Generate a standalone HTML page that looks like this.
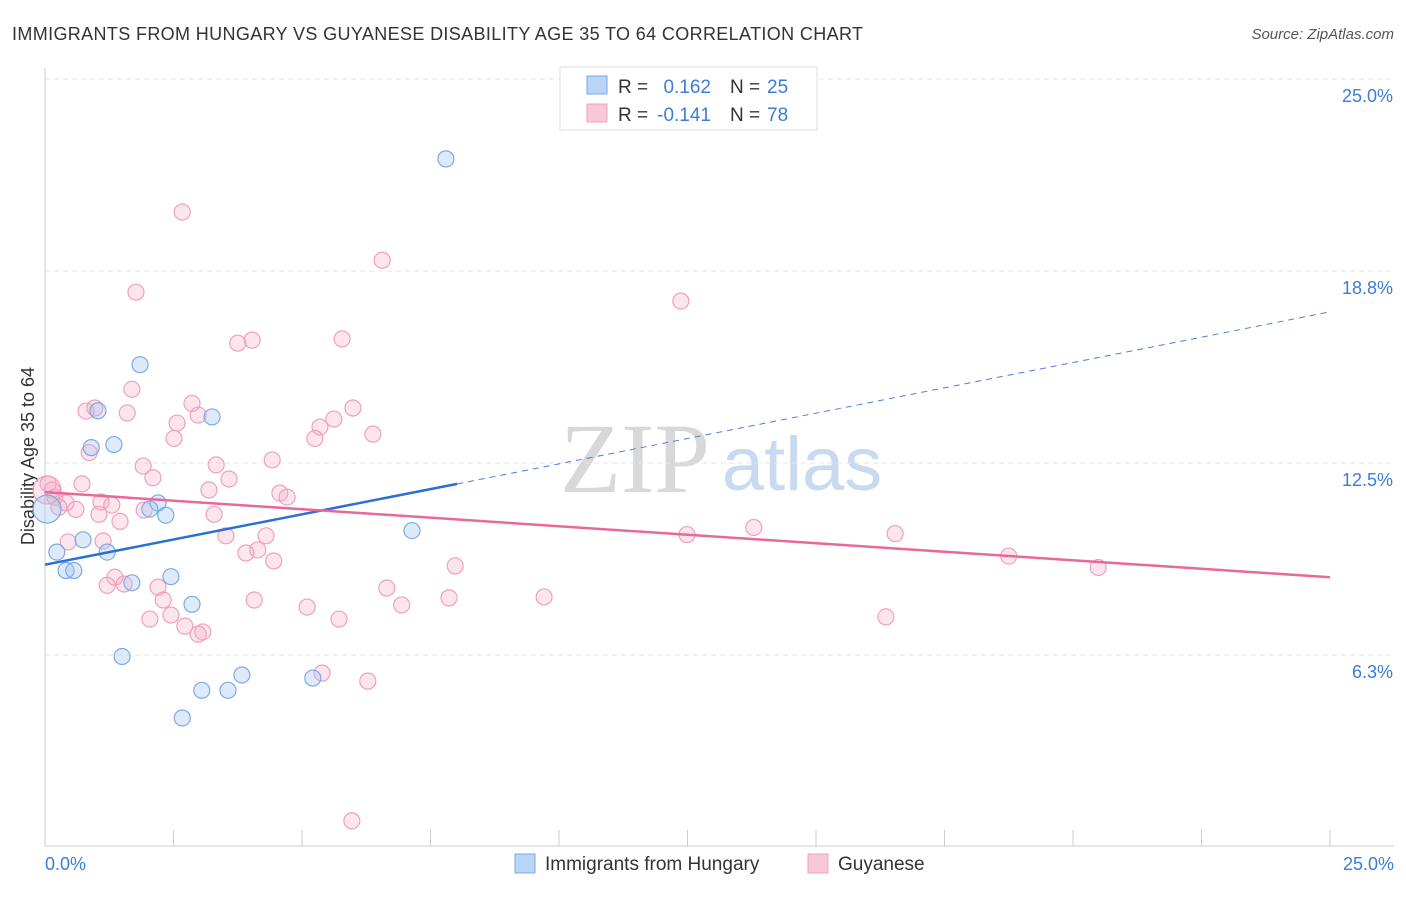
<!DOCTYPE html>
<html><head><meta charset="utf-8"><style>
body{margin:0;background:#fff;font-family:"Liberation Sans",sans-serif}
svg text{font-family:"Liberation Sans",sans-serif}
</style></head><body>
<svg id="c" width="1406" height="892">
<text x="12" y="40" font-size="18" fill="#333" textLength="851">IMMIGRANTS FROM HUNGARY VS GUYANESE DISABILITY AGE 35 TO 64 CORRELATION CHART</text>
<text x="1394" y="39" font-size="15" fill="#555" text-anchor="end" font-style="italic">Source: ZipAtlas.com</text>
<text x="635" y="492" font-size="100" fill="#d8d8d8" text-anchor="middle" style="font-family:'Liberation Serif',serif">ZIP</text>
<text x="802" y="490" font-size="76" fill="#c8daf0" text-anchor="middle">atlas</text>
<text transform="translate(34,456) rotate(-90)" font-size="18" fill="#333" text-anchor="middle">Disability Age 35 to 64</text>
<g id="grid"></g><g id="pts"></g><g id="lines"></g>
<g>
<rect x="560" y="67" width="257" height="63" fill="#fff" stroke="#ddd"/>
<rect x="587" y="76" width="20" height="18" fill="#b8d4f6" stroke="#7aaae8"/>
<rect x="587" y="104" width="20" height="18" fill="#f8c8d8" stroke="#f0a0bc"/>
<text x="618" y="93" font-size="19" fill="#333">R =</text>
<text x="711" y="93" font-size="19" fill="#3b7dd8" text-anchor="end">0.162</text>
<text x="730" y="93" font-size="19" fill="#333">N =</text>
<text x="767" y="93" font-size="19" fill="#3b7dd8">25</text>
<text x="618" y="121" font-size="19" fill="#333">R =</text>
<text x="711" y="121" font-size="19" fill="#3b7dd8" text-anchor="end">-0.141</text>
<text x="730" y="121" font-size="19" fill="#333">N =</text>
<text x="767" y="121" font-size="19" fill="#3b7dd8">78</text>
</g>
<g>
<rect x="515" y="854" width="20" height="19" fill="#b8d4f6" stroke="#7aaae8"/>
<text x="545" y="870" font-size="19" fill="#333">Immigrants from Hungary</text>
<rect x="808" y="854" width="20" height="19" fill="#f8c8d8" stroke="#f0a0bc"/>
<text x="838" y="870" font-size="19" fill="#333">Guyanese</text>
</g>
</svg>
<script>
const yTicks=[6.25,12.5,18.75,25];
const yTickLabels=["6.3%","12.5%","18.8%","25.0%"];
const blueX=[7.8,1.85,1.03,3.25,0.9,1.34,2.2,2.04,2.35,0.74,0.23,1.21,0.41,0.56,1.69,2.45,2.86,1.5,3.83,3.05,3.56,5.21,2.67,7.14,0.04];
const blueY=[22.4,15.7,14.2,14.0,13.0,13.1,11.2,11.0,10.8,10.0,9.6,9.6,9.0,9.0,8.6,8.8,7.9,6.2,5.6,5.1,5.1,5.5,4.2,10.3,11.0];
const pinkX=[2.67,6.56,1.77,12.37,4.03,3.75,5.78,1.69,2.86,0.97,0.8,1.6,5.99,2.98,2.57,5.62,5.35,6.38,2.51,5.25,0.86,1.91,3.33,4.42,3.58,2.1,0.72,3.19,4.57,4.71,0.14,0.06,0.19,0.41,1.09,1.3,0.6,0.27,1.05,1.93,3.29,1.46,12.49,13.79,16.54,4.3,3.52,0.45,1.13,4.14,3.91,18.75,20.49,4.45,7.98,1.36,1.21,1.54,2.2,6.65,2.3,4.07,7.86,9.71,5.1,6.94,16.36,2.04,2.45,5.72,2.72,3.07,2.98,5.39,6.28,5.97,0.04];
const pinkY=[20.67,19.1,18.06,17.77,16.5,16.4,16.54,14.9,14.44,14.29,14.19,14.13,14.29,14.06,13.8,13.93,13.67,13.44,13.3,13.3,12.84,12.4,12.44,12.6,11.98,12.02,11.82,11.62,11.52,11.39,11.62,11.82,11.39,11.2,11.23,11.13,10.99,11.06,10.83,10.97,10.83,10.6,10.17,10.4,10.2,10.13,10.13,9.93,9.96,9.67,9.57,9.47,9.1,9.31,9.15,8.78,8.52,8.56,8.46,8.43,8.04,8.04,8.11,8.14,7.81,7.88,7.49,7.42,7.55,7.42,7.19,7.0,6.93,5.66,5.4,0.85,11.62];
const blueTrend=[[0,9.19],[8.02,11.82],[25,17.42]];
const pinkTrend=[[0,11.55],[25,8.78]];
const X=v=>45+v*51.4, Y=v=>847-v*30.72;
const NS="http://www.w3.org/2000/svg";
function mk(t,a,p){const e=document.createElementNS(NS,t);for(const k in a)e.setAttribute(k,a[k]);p.appendChild(e);return e;}
const g=document.getElementById('grid');
yTicks.forEach((t,i)=>{
 const l=mk('line',{x1:45,x2:1394,y1:Y(t),y2:Y(t),stroke:'#e6e6e6','stroke-dasharray':'5,4'},g);
 
 
 const tx=mk('text',{x:1393,y:Y(t)+23,'font-size':18,fill:'#3b7dd8','text-anchor':'end'},g);
 tx.textContent=yTickLabels[i];
 
 
});
mk('line',{x1:45,x2:45,y1:68,y2:846,stroke:'#ccc'},g);
mk('line',{x1:45,x2:1394,y1:846,y2:846,stroke:'#ccc'},g);
for(let i=0;i<=10;i++){const t=mk('line',{x1:X(i*2.5),x2:X(i*2.5),y1:830,y2:846,stroke:'#ccc'},g);
 
 }
[["0.0%",45,'start'],["25.0%",1394,'end']].forEach(([s,x,a])=>{const t=mk('text',{x:x,y:870,'font-size':18,fill:'#3b7dd8','text-anchor':a},g);t.textContent=s;
 
 });
const p=document.getElementById('pts');
pinkX.forEach((v,i)=>{const big=i==pinkX.length-1;const c=mk('circle',{cx:X(v),cy:Y(pinkY[i]),r:big?14:8,fill:'rgba(245,170,195,0.3)',stroke:'#f0a0bc','stroke-width':1.2},p);
 
 });
blueX.forEach((v,i)=>{const big=i==blueX.length-1;const c=mk('circle',{cx:X(v),cy:Y(blueY[i]),r:big?14:8,fill:'rgba(160,196,240,0.35)',stroke:'#7aaae8','stroke-width':1.2},p);
 
 });
const L=document.getElementById('lines');
let b=mk('line',{x1:X(blueTrend[0][0]),y1:Y(blueTrend[0][1]),x2:X(blueTrend[1][0]),y2:Y(blueTrend[1][1]),stroke:'#2a6fd6','stroke-width':2.5},L);


b=mk('line',{x1:X(blueTrend[1][0]),y1:Y(blueTrend[1][1]),x2:X(blueTrend[2][0]),y2:Y(blueTrend[2][1]),stroke:'#4a80d8','stroke-width':1,'stroke-dasharray':'6,5'},L);


b=mk('line',{x1:X(pinkTrend[0][0]),y1:Y(pinkTrend[0][1]),x2:X(pinkTrend[1][0]),y2:Y(pinkTrend[1][1]),stroke:'#e8689a','stroke-width':2.5},L);


</script>
</body></html>
